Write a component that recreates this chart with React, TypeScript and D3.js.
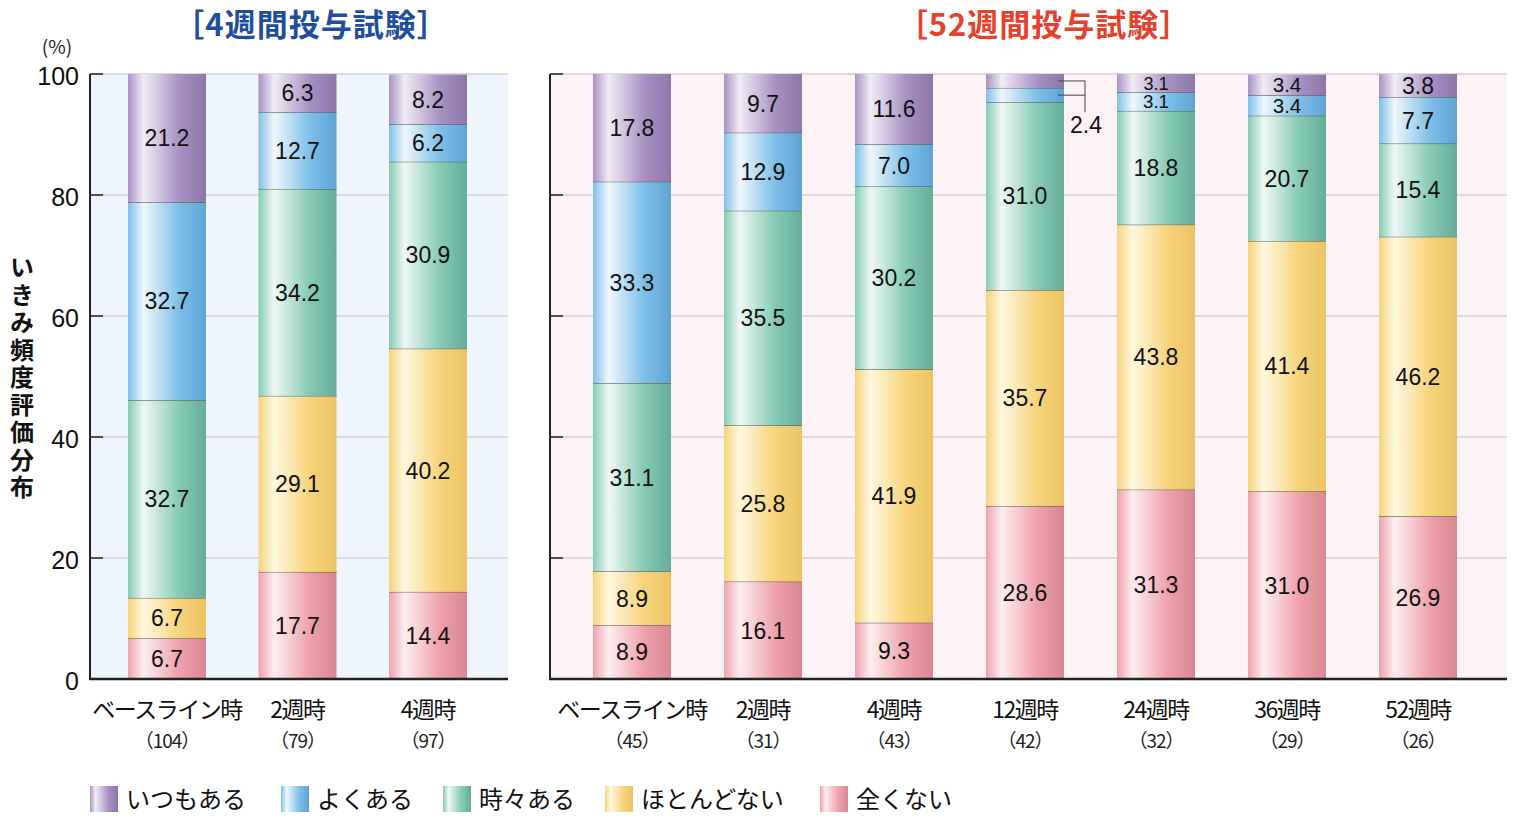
import React, { useEffect } from 'react';
import * as d3 from 'd3';

// series, bottom to top of each stack
const seriesNames = ['全くない', 'ほとんどない', '時々ある', 'よくある', 'いつもある'];
const legendOrder = ['いつもある', 'よくある', '時々ある', 'ほとんどない', '全くない'];

const leftCats = ['ベースライン時', '2週時', '4週時'];
const leftN = ['（104）', '（79）', '（97）'];
const leftValues = [
  [6.7, 6.7, 32.7, 32.7, 21.2],
  [17.7, 29.1, 34.2, 12.7, 6.3],
  [14.4, 40.2, 30.9, 6.2, 8.2],
];

const rightCats = ['ベースライン時', '2週時', '4週時', '12週時', '24週時', '36週時', '52週時'];
const rightN = ['（45）', '（31）', '（43）', '（42）', '（32）', '（29）', '（26）'];
const rightValues = [
  [8.9, 8.9, 31.1, 33.3, 17.8],
  [16.1, 25.8, 35.5, 12.9, 9.7],
  [9.3, 41.9, 30.2, 7.0, 11.6],
  [28.6, 35.7, 31.0, 2.4, 2.4],
  [31.3, 43.8, 18.8, 3.1, 3.1],
  [31.0, 41.4, 20.7, 3.4, 3.4],
  [26.9, 46.2, 15.4, 7.7, 3.8],
];

const yTicks = [0, 20, 40, 60, 80, 100];

// gradient stops: edge, highlight, dark
const palette: Record<string, string[]> = {
  'いつもある': ['#a892c2', '#f1ecf6', '#8e76a8'],
  'よくある': ['#7fc0e8', '#eef7fd', '#5ea4d4'],
  '時々ある': ['#86cbb5', '#eef8f4', '#66ad9a'],
  'ほとんどない': ['#f6d47c', '#fff7df', '#edc362'],
  '全くない': ['#eea2ac', '#fdeef0', '#d88792'],
};

const FONT = '"Liberation Sans", Arial, Helvetica, sans-serif';
const JP = '"Noto Sans CJK JP", sans-serif';

const y = d3.scaleLinear().domain([0, 100]).range([679, 74]);
const BAR_W = 78;

interface PanelProps {
  cats: string[];
  ns: string[];
  values: number[][];
  x0: number;
  x1: number;
  first: number;
  last: number;
  bg: string;
  showLabels: boolean;
}

const Panel: React.FC<PanelProps> = ({ cats, ns, values, x0, x1, first, last, bg, showLabels }) => {
  const x = d3.scalePoint<string>().domain(cats).range([first, last]);
  const stack = d3.stack<number[]>()
    .keys(seriesNames.map((_, i) => String(i)))
    .value((d, k) => d[+k]);
  const layers = stack(values);
  return (
    <g>
      <rect x={x0} y={y(100)} width={x1 - x0} height={y(0) - y(100)} fill={bg} />
      {yTicks.filter(t => t > 0).map(t => (
        <line key={t} x1={x0} x2={x1} y1={y(t)} y2={y(t)} stroke="#d2d2d2" strokeWidth={1.5} />
      ))}
      {layers.map((layer, li) => layer.map((seg, ci) => {
        const cx = x(cats[ci])!;
        const top = y(Math.min(seg[1], 100));
        const bot = y(seg[0]);
        return (
          <g key={`${li}-${ci}`}>
            <rect x={cx - BAR_W / 2} y={top} width={BAR_W} height={bot - top}
              fill={`url(#grad${li})`} />
            {li < layers.length - 1 && (
              <line x1={cx - BAR_W / 2} x2={cx + BAR_W / 2} y1={top} y2={top}
                stroke="#4a4a4a" strokeWidth={1} />
            )}
          </g>
        );
      }))}
      {layers.map((layer, li) => layer.map((seg, ci) => {
        const cx = x(cats[ci])!;
        const v = values[ci][li];
        const top = y(Math.min(seg[1], 100));
        const bot = y(seg[0]);
        const mid = (top + bot) / 2;
        if (v < 3 && li >= 3) return null;
        return (
          <text key={`t${li}-${ci}`} x={cx} y={mid} dy="0.36em" textAnchor="middle"
            fontFamily={FONT} fontSize={Math.min(23, bot - top)} fill="#111">
            {v.toFixed(1)}
          </text>
        );
      }))}
      {/* callout for stacks whose top two segments are too thin */}
      {values.map((vals, ci) => {
        if (!(vals[3] < 3 && vals[4] < 3)) return null;
        const cx = x(cats[ci])!;
        const l = layers[4][ci];
        const b = layers[3][ci];
        const ya = (y(Math.min(l[1], 100)) + y(l[0])) / 2;
        const yb = (y(b[1]) + y(b[0])) / 2;
        const lx = cx + BAR_W / 2 + 21;
        return (
          <g key={`c${ci}`} stroke="#444" strokeWidth={1} fill="none">
            <polyline points={`${cx + BAR_W / 2 - 6},${ya} ${lx},${ya} ${lx},${yb + 17}`} />
            <line x1={cx + BAR_W / 2 - 6} x2={lx} y1={yb} y2={yb} />
            <text x={lx + 1} y={yb + 30} dy="0.36em" textAnchor="middle" stroke="none"
              fill="#111" fontFamily={FONT} fontSize={23}>{vals[3].toFixed(1)}</text>
          </g>
        );
      })}
      {/* axes */}
      <line x1={x0} x2={x0} y1={y(100)} y2={y(0)} stroke="#222" strokeWidth={2} />
      {yTicks.filter(t => t > 0).map(t => (
        <line key={`tk${t}`} x1={x0} x2={x0 + 13} y1={y(t)} y2={y(t)} stroke="#222" strokeWidth={1.5} />
      ))}
      <line x1={x0 - 1} x2={x1} y1={y(0)} y2={y(0)} stroke="#222" strokeWidth={2.5} />
      {showLabels && yTicks.map(t => (
        <text key={`yl${t}`} x={x0 - 11} y={y(t) + 2} dy="0.36em" textAnchor="end"
          fontFamily={FONT} fontSize={25} fill="#111">{t}</text>
      ))}
      {cats.map((c, i) => (
        <g key={`xl${c}`}>
          <text x={x(c)!} y={710} dy="0.36em" textAnchor="middle" fontFamily={JP}
            fontSize={23} fill="#111" letterSpacing={-1.5}>{c}</text>
          <text x={x(c)!} y={741} dy="0.36em" textAnchor="middle" fontFamily={JP}
            fontSize={19} fill="#222" letterSpacing={-1}>{ns[i]}</text>
        </g>
      ))}
    </g>
  );
};

const legendX = [90, 281, 443, 605, 820];

const App: React.FC = () => {
  useEffect(() => {
    document.body.style.margin = '0';
  }, []);
  return (
    <svg width={1518} height={822} style={{ display: 'block', background: '#fff' }}>
      <defs>
        {seriesNames.map((s, i) => (
          <linearGradient key={s} id={`grad${i}`} x1="0" x2="1" y1="0" y2="0">
            <stop offset="0" stopColor={palette[s][0]} />
            <stop offset="0.2" stopColor={palette[s][1]} />
            <stop offset="0.65" stopColor={palette[s][0]} />
            <stop offset="1" stopColor={palette[s][2]} />
          </linearGradient>
        ))}
      </defs>

      <text x={311} y={25} dy="0.36em" textAnchor="middle" fontFamily={JP} fontWeight="bold"
        fontSize={31} fill="#1f4f9c" letterSpacing={1}>［4週間投与試験］</text>
      <text x={1044} y={25} dy="0.36em" textAnchor="middle" fontFamily={JP} fontWeight="bold"
        fontSize={31} fill="#e5412d" letterSpacing={1}>［52週間投与試験］</text>

      <text x={57} y={47} dy="0.36em" textAnchor="middle" fontFamily={JP} fontSize={19}
        fill="#222">(%)</text>
      <text x={22} y={255} fontFamily={JP} fontWeight="bold" fontSize={24} fill="#111"
        style={{ writingMode: 'vertical-rl', textOrientation: 'upright' }} letterSpacing={3.5}>
        いきみ頻度評価分布
      </text>

      <Panel cats={leftCats} ns={leftN} values={leftValues} x0={90} x1={508}
        first={167} last={428} bg="#eef5fd" showLabels={true} />
      <Panel cats={rightCats} ns={rightN} values={rightValues} x0={550} x1={1507}
        first={632} last={1418} bg="#fdf2f5" showLabels={false} />

      {legendOrder.map((s, i) => {
        const li = seriesNames.indexOf(s);
        return (
          <g key={s}>
            <rect x={legendX[i]} y={786} width={28} height={26} fill={`url(#grad${li})`} />
            <text x={legendX[i] + 36} y={799} dy="0.36em" fontFamily={JP} fontSize={24}
              fill="#111">{s}</text>
          </g>
        );
      })}
    </svg>
  );
};

export default App;
